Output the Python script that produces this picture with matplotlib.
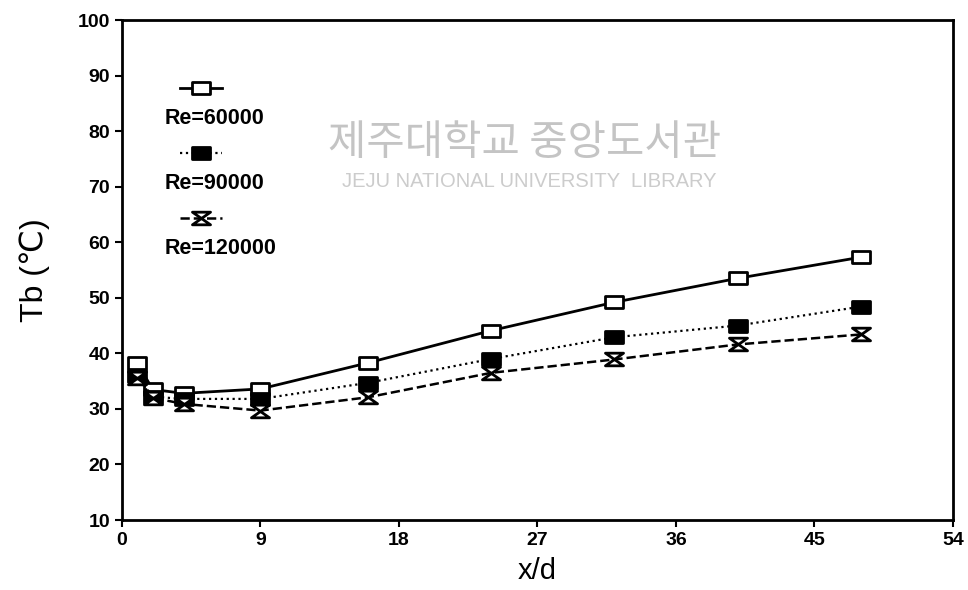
import matplotlib
matplotlib.use('Agg')
import matplotlib.pyplot as plt
from matplotlib.path import Path
from matplotlib.lines import Line2D

plt.rcParams['font.family'] = ['Liberation Sans', 'DejaVu Sans']

# data
xd = [1, 2, 4, 9, 16, 24, 32, 40, 48]
tb_60000 = [38.2, 33.5, 32.8, 33.6, 38.3, 44.1, 49.2, 53.5, 57.3]
tb_90000 = [36.0, 32.2, 31.8, 31.8, 34.7, 39.0, 42.9, 45.0, 48.4]
tb_120000 = [35.5, 32.0, 30.9, 29.7, 32.1, 36.5, 38.9, 41.6, 43.4]
xticks = [0, 9, 18, 27, 36, 45, 54]
yticks = [10, 20, 30, 40, 50, 60, 70, 80, 90, 100]

rect = Path([(-1, -0.62), (1, -0.62), (1, 0.62), (-1, 0.62), (-1, -0.62)],
            [Path.MOVETO, Path.LINETO, Path.LINETO, Path.LINETO, Path.CLOSEPOLY])
hourglass = Path([(-1, 0.7), (1, 0.7), (-1, -0.7), (1, -0.7), (-1, 0.7)],
                 [Path.MOVETO, Path.LINETO, Path.LINETO, Path.LINETO, Path.CLOSEPOLY])

styles = [
    (tb_60000, 'Re=60000', '-', 2.0, rect, 'white'),
    (tb_90000, 'Re=90000', ':', 1.6, rect, 'black'),
    (tb_120000, 'Re=120000', '--', 1.8, hourglass, 'white'),
]

fig = plt.figure(figsize=(9.68, 5.9), dpi=100)
ax = fig.add_axes([0.126, 0.1186, 0.8585, 0.8475])

for ys, lab, ls, lw, mk, fc in styles:
    ax.plot(xd, ys, linestyle=ls, linewidth=lw, color='black', marker=mk,
            markersize=13, markerfacecolor=fc, markeredgecolor='black',
            markeredgewidth=2.0)

ax.set_xlim(0, 54)
ax.set_ylim(10, 100)
ax.set_xticks(xticks)
ax.set_yticks(yticks)
ax.tick_params(direction='out', length=5, width=1.5, labelsize=14)
for t in ax.get_xticklabels() + ax.get_yticklabels():
    t.set_fontweight('bold')
for s in ax.spines.values():
    s.set_linewidth(2)

ax.set_xlabel('x/d', fontsize=21, labelpad=6)
ax.set_ylabel('Tb (℃)', fontsize=23, labelpad=20)

# legend: sample line above, label below
leg_y = [0.864, 0.734, 0.604]
for (ys, lab, ls, lw, mk, fc), y in zip(styles, leg_y):
    ax.add_line(Line2D([0.07, 0.12], [y, y], transform=ax.transAxes,
                       linestyle=ls, linewidth=lw, color='black'))
    ax.add_line(Line2D([0.095], [y], transform=ax.transAxes, linestyle='none',
                       marker=mk, markersize=13, markerfacecolor=fc,
                       markeredgecolor='black', markeredgewidth=2.0))
    ax.text(0.051, y - 0.06, lab, transform=ax.transAxes, fontsize=15.5,
            fontweight='bold', va='center', ha='left')

# library watermark
ax.text(0.485, 0.754, '제주대학교 중앙도서관', transform=ax.transAxes,
        fontsize=30, color='#c4c4c4', ha='center', va='center',
        family=['Noto Sans CJK KR', 'DejaVu Sans'])
ax.text(0.49, 0.678, 'JEJU NATIONAL UNIVERSITY  LIBRARY', transform=ax.transAxes,
        fontsize=14.5, color='#cccccc', ha='center', va='center')

fig.savefig('out.png', dpi=100)
